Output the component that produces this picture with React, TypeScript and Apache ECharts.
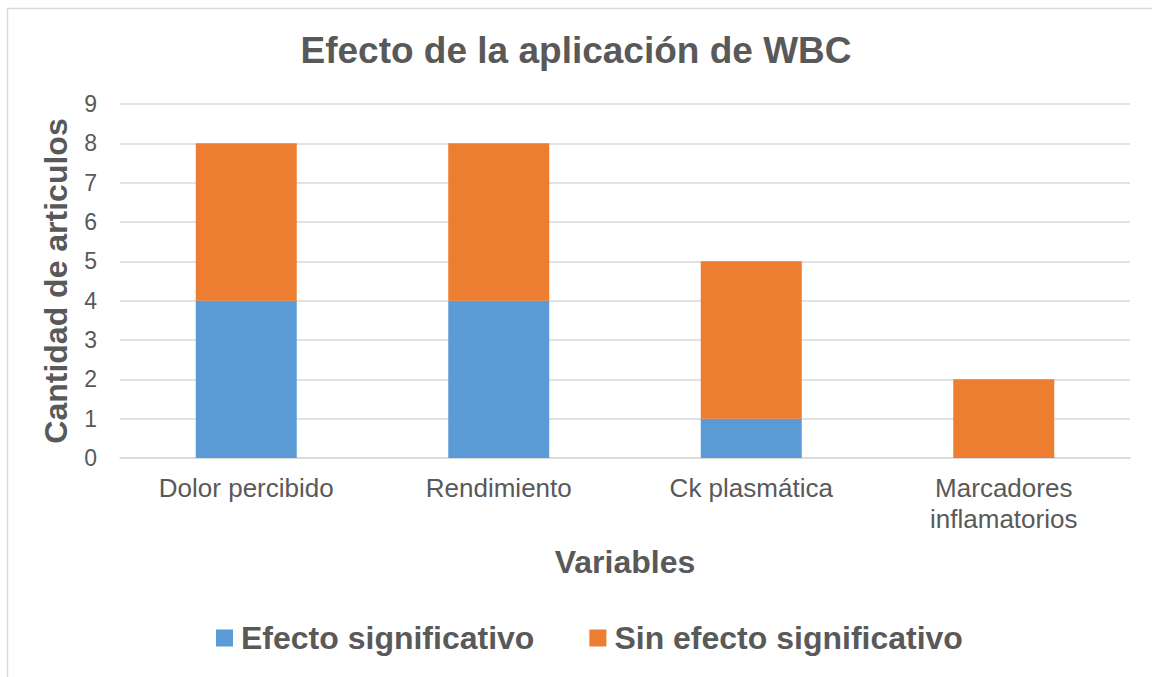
import React, { useEffect, useRef } from "react";
import * as echarts from "echarts";

const categories = ["Dolor percibido", "Rendimiento", "Ck plasmática", "Marcadores\ninflamatorios"];
const efectoSignificativo = [4, 4, 1, 0];
const sinEfecto = [4, 4, 4, 2];
const seriesNames = ["Efecto significativo", "Sin efecto significativo"];

const FONT = "Liberation Sans, Arial, sans-serif";
const GREY = "#595959";

export default function App() {
  const ref = useRef<HTMLDivElement>(null);
  useEffect(() => {
    const chart = echarts.init(ref.current!, null, { renderer: "svg" });
    chart.setOption({
      animation: false,
      backgroundColor: "#ffffff",
      textStyle: { fontFamily: FONT },
      graphic: [
        {
          type: "rect",
          shape: { x: 7.5, y: 8.5, width: 1300, height: 800 },
          style: { fill: "none", stroke: "#d9d9d9", lineWidth: 1.5 },
          silent: true,
        },
      ],
      title: {
        text: "Efecto de la aplicación de WBC",
        left: "center",
        top: 27,
        textStyle: { fontFamily: FONT, fontSize: 37, fontWeight: "bold", color: GREY },
      },
      legend: {
        bottom: 18,
        left: 211,
        itemWidth: 17,
        itemHeight: 17,
        itemGap: 55,
        icon: "rect",
        textStyle: { fontFamily: FONT, fontSize: 32, fontWeight: "bold", color: GREY, padding: [0, 0, 0, 3] },
        data: seriesNames,
      },
      grid: { left: 120, right: 22, top: 104, bottom: 219, containLabel: false },
      xAxis: {
        type: "category",
        data: categories,
        name: "Variables",
        nameLocation: "middle",
        nameGap: 88,
        nameTextStyle: { fontFamily: FONT, fontSize: 32, fontWeight: "bold", color: GREY },
        axisLine: { lineStyle: { color: "#d9d9d9", width: 1.5 } },
        axisTick: { show: false },
        axisLabel: { fontFamily: FONT, fontSize: 26, color: GREY, margin: 14, lineHeight: 31, interval: 0 },
      },
      yAxis: {
        type: "value",
        min: 0,
        max: 9,
        interval: 1,
        name: "Cantidad de articulos",
        nameLocation: "middle",
        nameGap: 48,
        nameTextStyle: { fontFamily: FONT, fontSize: 32, fontWeight: "bold", color: GREY },
        axisLine: { show: false },
        axisTick: { show: false },
        splitLine: { lineStyle: { color: "#d9d9d9", width: 1.5 } },
        axisLabel: { fontFamily: FONT, fontSize: 23, color: GREY, margin: 23 },
      },
      series: [
        {
          name: seriesNames[0],
          type: "bar",
          stack: "total",
          data: efectoSignificativo,
          barCategoryGap: "60%",
          itemStyle: { color: "#5B9BD5" },
        },
        {
          name: seriesNames[1],
          type: "bar",
          stack: "total",
          data: sinEfecto,
          barCategoryGap: "60%",
          itemStyle: { color: "#ED7D31" },
        },
      ],
    });
    return () => chart.dispose();
  }, []);
  return <div ref={ref} style={{ position: "fixed", left: 0, top: 0, width: 1152, height: 677 }} />;
}
